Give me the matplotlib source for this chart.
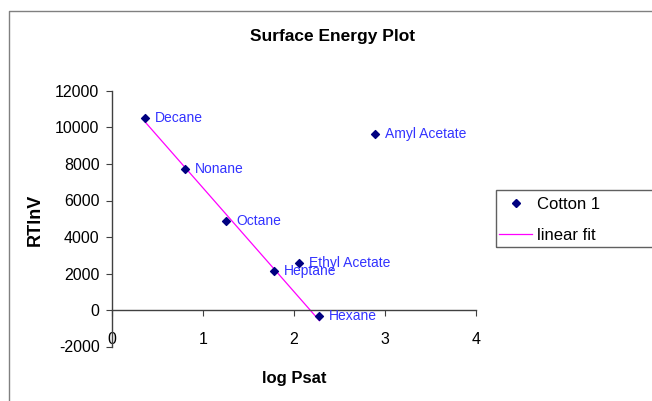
import matplotlib
matplotlib.use("Agg")
import matplotlib.pyplot as plt
import numpy as np
from matplotlib.lines import Line2D
from matplotlib.patches import Rectangle

plt.rcParams['font.family'] = ['Liberation Sans', 'DejaVu Sans']

labels = ["Decane", "Nonane", "Octane", "Heptane", "Ethyl Acetate", "Hexane", "Amyl Acetate"]
log_psat = [0.367, 0.807, 1.255, 1.777, 2.057, 2.28, 2.89]
rtlnv = [10537, 7742, 4893, 2153, 2592, -329, 9660]
fit_names = ["Decane", "Nonane", "Octane", "Heptane", "Hexane"]
x_ticks = [0, 1, 2, 3, 4]
y_ticks = [-2000, 0, 2000, 4000, 6000, 8000, 10000, 12000]

fig = plt.figure(figsize=(6.52, 4.01), dpi=100)
W, H = 652, 401
ax = fig.add_axes([112 / W, 1 - 346.5 / H, (476 - 112) / W, (346.5 - 91) / H])

# linear fit of alkanes
fx = np.array([log_psat[labels.index(n)] for n in fit_names])
fy = np.array([rtlnv[labels.index(n)] for n in fit_names])
k, b = np.polyfit(fx, fy, 1)
xs = np.array([fx.min(), fx.max()])
ax.plot(xs, k * xs + b, color='#FF00FF', lw=0.9, zorder=2)

ax.scatter(log_psat, rtlnv, marker='D', s=16, color='#000080', zorder=3)
for name, x, y in zip(labels, log_psat, rtlnv):
    ax.annotate(name, (x, y), xytext=(7, 0), textcoords='offset points',
                va='center', ha='left', fontsize=10, color='#3333FF')

ax.set_xlim(0, 4)
ax.set_ylim(-2000, 12000)
ax.set_xticks(x_ticks)
ax.set_yticks(y_ticks)
ax.set_xticklabels([str(t) for t in x_ticks])
ax.set_yticklabels([str(t) for t in y_ticks])
ax.spines['top'].set_visible(False)
ax.spines['right'].set_visible(False)
ax.spines['bottom'].set_position(('data', 0))
for sp in ('left', 'bottom'):
    ax.spines[sp].set_color('#404040')
    ax.spines[sp].set_linewidth(1.0)
ax.tick_params(axis='x', direction='out', length=4, pad=12, labelsize=11.5, color='#404040')
ax.tick_params(axis='y', direction='out', length=4, pad=5, labelsize=11.5, color='#404040')
ax.patch.set_alpha(0)

fig.text(333 / W, 1 - 37 / H, "Surface Energy Plot", ha='center', va='center',
         fontsize=12.5, fontweight='bold')
fig.text(294 / W, 1 - 378 / H, "log Psat", ha='center', va='center',
         fontsize=12, fontweight='bold')
fig.text(35 / W, 1 - 220 / H, "RTlnV", ha='center', va='center', rotation=90,
         fontsize=13, fontweight='bold')

# outer chart frame
fig.add_artist(Line2D([9 / W, 9 / W, 1.0], [0.0, 1 - 11 / H, 1 - 11 / H],
                      transform=fig.transFigure, color='#808080', lw=1.0))

# legend box
fig.add_artist(Rectangle((496 / W, 1 - 247 / H), (700 - 496) / W, 57 / H,
                         transform=fig.transFigure, fill=False, edgecolor='#606060', lw=1.0))
handles = [Line2D([], [], marker='D', ls='none', markersize=4, color='#000080'),
           Line2D([], [], color='#FF00FF', lw=0.9)]
fig.legend(handles, ["Cotton 1", "linear fit"], loc='upper left',
           bbox_to_anchor=(499 / W, 1 - 197 / H), frameon=False, fontsize=12,
           handlelength=2.0, handletextpad=0.3, labelspacing=0.95, borderpad=0, borderaxespad=0)

fig.savefig("out.png", dpi=100)
